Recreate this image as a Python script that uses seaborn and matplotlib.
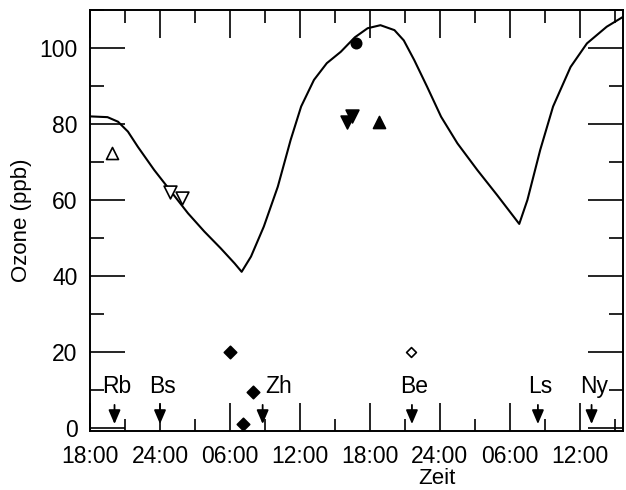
import matplotlib
matplotlib.use("Agg")
import matplotlib.pyplot as plt
import seaborn as sns
import pandas as pd
from matplotlib.ticker import MultipleLocator

# Modelled ozone course (hours after 18:00 on day 1, ppb)
model_hours = [0, 1.5, 2.4, 3.25, 4.1, 5.5, 6.95, 8.4, 9.8, 11.2, 12.4, 13.0,
               13.8, 14.9, 16.1, 17.2, 18.1, 19.2, 20.3, 21.5, 22.7, 23.8, 24.9,
               26.1, 26.9, 27.8, 28.9, 30.1, 31.5, 33.2, 34.9, 36.0, 36.8, 37.5,
               38.6, 39.7, 41.2, 42.6, 44.3, 45.7]
model_ozone = [82, 81.8, 80.6, 78, 74, 67.9, 62.2, 56.5, 51.7, 47.3, 43.3, 41.1,
               45.1, 53, 63.5, 75.8, 84.6, 91.6, 96, 99, 102.8, 105.2, 106,
               104.7, 102, 96.8, 89.8, 81.9, 74.9, 67.9, 61.3, 56.9, 53.7, 60,
               73.2, 84.6, 95, 101.2, 105.6, 108.2]

# Measured values at the stations
open_up_hours, open_up_ozone = [1.9], [72.4]
open_down_hours, open_down_ozone = [6.9, 7.9], [62, 60.5]
filled_diamond_hours, filled_diamond_ozone = [12.0, 13.1, 14.0], [20, 1, 9.5]
filled_circle_hours, filled_circle_ozone = [22.8], [101.3]
filled_down_hours, filled_down_ozone = [22.0, 22.5], [80.5, 82]
filled_up_hours, filled_up_ozone = [24.8], [80.5]
open_diamond_hours, open_diamond_ozone = [27.5], [20]

# Station passages
stations = ["Rb", "Bs", "Zh", "Be", "Ls", "Ny"]
station_hours = [2.1, 6.0, 14.8, 27.6, 38.4, 43.0]

tick_hours = [0, 6, 12, 18, 24, 30, 36, 42]
tick_labels = ["18:00", "24:00", "06:00", "12:00", "18:00", "24:00", "06:00", "12:00"]

sns.set_theme(style="ticks")
plt.rcParams["font.family"] = ["Liberation Sans", "DejaVu Sans"]
plt.rcParams.update({"text.color": "black", "axes.labelcolor": "black",
                     "xtick.color": "black", "ytick.color": "black"})

fig = plt.figure(figsize=(6.26, 4.9), dpi=100)
ax = fig.add_axes([0.1438, 0.1204, 0.8515, 0.8592])

model = pd.DataFrame({"hours": model_hours, "ozone": model_ozone})
sns.lineplot(data=model, x="hours", y="ozone", color="black", linewidth=1.5,
             ax=ax, sort=False)
ax.lines[0].set_solid_joinstyle("round")

def draw_points(hours, ozone, marker, filled, size):
    df = pd.DataFrame({"hours": hours, "ozone": ozone})
    sns.scatterplot(data=df, x="hours", y="ozone", marker=marker, s=size,
                    facecolor="black" if filled else "white",
                    edgecolor="black", linewidth=1.2, ax=ax, zorder=3)

draw_points(open_up_hours, open_up_ozone, "^", False, 75)
draw_points(open_down_hours, open_down_ozone, "v", False, 85)
draw_points(filled_diamond_hours, filled_diamond_ozone, "D", True, 40)
draw_points(filled_circle_hours, filled_circle_ozone, "o", True, 55)
draw_points(filled_down_hours, filled_down_ozone, "v", True, 85)
draw_points(filled_up_hours, filled_up_ozone, "^", True, 75)
draw_points(open_diamond_hours, open_diamond_ozone, "D", False, 25)

for name, h in zip(stations, station_hours):
    ax.annotate("", xy=(h, 0.3), xytext=(h, 6.8),
                arrowprops=dict(arrowstyle="-|>,head_length=0.7,head_width=0.3",
                                color="black", lw=1.3))
    if name == "Zh":
        ax.text(h + 0.2, 10.8, name, ha="left", va="center", fontsize=16.5)
    else:
        ax.text(h + 0.2, 10.8, name, ha="center", va="center", fontsize=16.5)

ax.set_xlim(0, 45.7)
ax.set_ylim(-0.8, 110)
ax.set_xticks(tick_hours)
ax.set_xticklabels(tick_labels)
ax.xaxis.set_minor_locator(MultipleLocator(3))
ax.set_yticks([0, 20, 40, 60, 80, 100])
ax.yaxis.set_minor_locator(MultipleLocator(10))

ax.tick_params(which="both", direction="in", top=True, right=True,
               labelsize=16.5, width=1.2)
ax.tick_params(axis="x", which="major", length=20, pad=10)
ax.tick_params(axis="x", which="minor", length=9)
ax.tick_params(axis="y", which="major", length=25, pad=9)
ax.tick_params(axis="y", which="minor", length=10)
for spine in ax.spines.values():
    spine.set_visible(True)
    spine.set_color("black")
    spine.set_linewidth(1.4)

ax.set_xlabel("Zeit", fontsize=16)
ax.set_ylabel("Ozone (ppb)", fontsize=16)
ax.xaxis.label.set_verticalalignment("center")
ax.xaxis.set_label_coords(0.651, -0.114)
ax.yaxis.set_label_coords(-0.109, 0.5)

fig.savefig("out.png", dpi=100)
